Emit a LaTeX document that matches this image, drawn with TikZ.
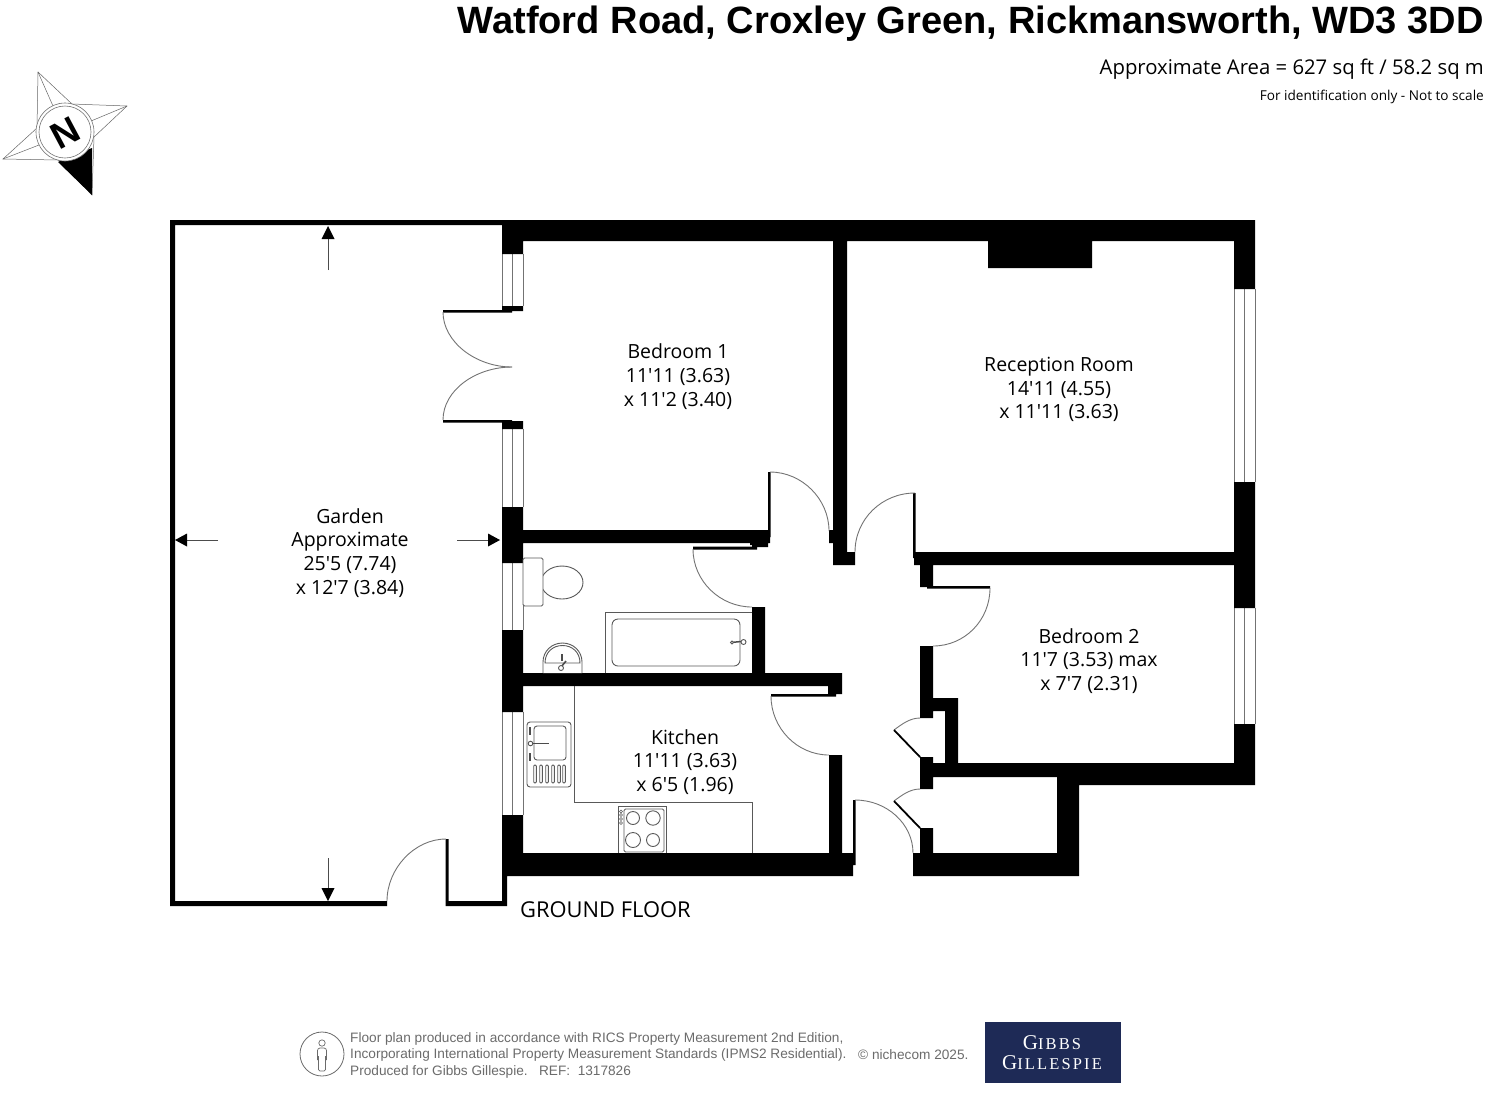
\documentclass[tikz,border=0pt]{standalone}
\usepackage{fontspec}
\newfontfamily\roomfont{Open Sans}
\newfontfamily\arial{Liberation Sans}
\newfontfamily\logofont[LetterSpace=13]{Liberation Serif}
\definecolor{navy}{HTML}{1E2A56}
\definecolor{fineline}{gray}{0.45}
\definecolor{footgrey}{gray}{0.42}
\tikzset{
  wall/.style={fill=black},
  fine/.style={draw=fineline,line width=0.9pt,fill=none},
  fixture/.style={draw=black!65,line width=0.9pt,fill=white},
  roomlabel/.style={align=center,inner sep=0pt,font=\roomfont\fontsize{19.5}{23.8}\selectfont},
  footline/.style={anchor=west,inner sep=0pt,text=footgrey,font=\arial\fontsize{13.65}{15}\selectfont},
  gardenarrow/.style={draw=black!70,line width=0.8pt},
  arrowhead/.style={fill=black},
}
\begin{document}
\begin{tikzpicture}[x=1pt,y=-1pt]
\useasboundingbox (0,0) rectangle (1487,1096);
% ---------- windows
\foreach \ya/\yb in {254/306,429/507,563/630,712/815}{
  \draw[fine] (502,\ya) -- (502,\yb) (512.5,\ya) -- (512.5,\yb) (523,\ya) -- (523,\yb);
}
\foreach \ya/\yb in {289/482,608/724}{
  \draw[fine] (1234,\ya) -- (1234,\yb) (1244.5,\ya) -- (1244.5,\yb) (1255,\ya) -- (1255,\yb);
}
% ---------- walls
\fill[wall]
  % garden
  (170,220) rectangle (175,906)
  (170,220) rectangle (502,225)
  (170,901) rectangle (387,906)
  (447,901) rectangle (507,906)
  (445.5,839) rectangle (448.5,906)
  (502,875) rectangle (507,906)
  % top and west
  (502,220) rectangle (1255,241)
  (502,220) rectangle (523,254)
  (502,306) rectangle (523,311)
  (443,310) rectangle (512,312.5)
  (443,420) rectangle (512,422.5)
  (502,421) rectangle (523,429)
  (502,507) rectangle (523,563)
  (502,630) rectangle (523,712)
  (502,815) rectangle (523,876)
  % south
  (502,853) rectangle (853,876)
  (842,853) rectangle (855,865)
  (853,800) rectangle (855.5,865)
  % chimney breast
  (988,241) rectangle (1092,268)
  % partition bedroom/reception
  (833,241) rectangle (847,565)
  (833,552) rectangle (855,565)
  % bedroom 1 south
  (523,530) rectangle (770,543)
  (750,543) rectangle (765,545)
  (752,541) rectangle (768,547)
  (768,472) rectangle (770.5,537)
  (829,530) rectangle (833,543)
  (693,546.5) rectangle (757,549.5)
  % hall east
  (913,493) rectangle (915.5,558)
  (914,552) rectangle (1234,565)
  (920,565) rectangle (933,587)
  (927,586) rectangle (990,588.5)
  (920,646) rectangle (933,718)
  (920,698) rectangle (958,711)
  (945,698) rectangle (958,763)
  (920,757) rectangle (933,789)
  (920,763) rectangle (1079,777)
  (1079,763) rectangle (1255,785)
  (920,828) rectangle (933,853)
  (913,853) rectangle (1079,876)
  (1057,763) rectangle (1079,876)
  % east
  (1234,220) rectangle (1255,289)
  (1234,482) rectangle (1255,608)
  (1234,724) rectangle (1255,785)
  % bath/kitchen
  (752,607) rectangle (765,673)
  (523,673) rectangle (842,686)
  (828,686) rectangle (842,694)
  (771,694) rectangle (836,696.5)
  (829,755) rectangle (842,853);
% ---------- door arcs
\draw[fine] (443,312) .. controls +(0,30) and +(-36,0) .. (512,367);
\draw[fine] (443,420) .. controls +(0,-30) and +(-36,0) .. (512,367);
\draw[fine] (446,839) .. controls +(-32,0) and +(0,-32) .. (387,901);
\draw[fine] (770,472) .. controls +(32,0) and +(0,-32) .. (829,531);
\draw[fine] (915,493) .. controls +(-33,0) and +(0,-33) .. (855,552);
\draw[fine] (990,588) .. controls +(0,32) and +(32,0) .. (933,646);
\draw[fine] (693,549) .. controls +(0,32) and +(-32,0) .. (752,607);
\draw[fine] (771,696) .. controls +(0,32) and +(-32,0) .. (829,755);
\draw[fine] (855,800) .. controls +(32,0) and +(0,-29) .. (913,853);
\draw[fine] (920,718) .. controls +(-10,0) and +(8,-6) .. (894,730);
\draw[fine] (920,789) .. controls +(-10,0) and +(8,-6) .. (894,801);
\draw[line width=1.8pt] (894,730) -- (920,757);
\draw[line width=1.8pt] (894,801) -- (920,828);
% ---------- garden arrows
\draw[gardenarrow] (328,270) -- (328,235);
\fill[arrowhead] (328,226) -- (334.5,239) -- (321.5,239) -- cycle;
\draw[gardenarrow] (328,858) -- (328,892);
\fill[arrowhead] (328,901) -- (334.5,888) -- (321.5,888) -- cycle;
\draw[gardenarrow] (218,540) -- (184,540);
\fill[arrowhead] (175,540) -- (187,533.5) -- (187,546.5) -- cycle;
\draw[gardenarrow] (457,540) -- (491,540);
\fill[arrowhead] (500,540) -- (488,533.5) -- (488,546.5) -- cycle;
% ---------- toilet
\draw[fixture] (562,582.5) ellipse[x radius=21,y radius=16.5];
\draw[fixture,rounded corners=1.5pt] (523,558) rectangle (543,606);
% ---------- basin
\draw[fixture] (543,673) -- (543,662) .. controls (543,651) and (552,643) .. (562.5,643) .. controls (573,643) and (582,651) .. (582,662) -- (582,673);
\draw[fixture,fill=none] (545,663) .. controls (545,652) and (553,645.5) .. (562.5,645.5) .. controls (572,645.5) and (580,652) .. (580,663) -- cycle;
\draw[fixture,line width=2pt,draw=black!70] (562,654) -- (562,661);
\draw[fixture,line width=1.6pt,draw=black!70] (561,667) -- (566,661);
\draw[fixture] (561,668) circle[radius=2.5];
% ---------- bath
\draw[fixture] (605,673) -- (605,612) -- (752,612);
\draw[fixture,rounded corners=6pt] (612,619) rectangle (740,666);
\draw[fixture,line width=1.5pt,draw=black!70] (731,642.5) -- (746,641);
\draw[fixture] (743.5,642) circle[radius=2.5];
\draw[fixture] (732,642.5) circle[radius=1.5];
% ---------- kitchen units
\draw[fixture,fill=none] (574,686) -- (574,802) -- (752,802) -- (752,853);
\draw[fixture,rounded corners=3pt] (527,722) rectangle (571,787);
\draw[fixture,rounded corners=3pt] (534,726) rectangle (566,760);
\foreach \xx in {535,541,547,553,559,564}{
  \draw[fixture,rounded corners=1pt,fill=none] (\xx-1.3,765) rectangle (\xx+1.3,783);
}
\draw[fixture,line width=1.8pt,draw=black!70] (530,727) -- (530,735);
\draw[fixture,line width=1.8pt,draw=black!70] (530,753) -- (530,761);
\draw[fixture,line width=1.2pt,draw=black!70] (532,743.5) -- (549,743.5);
\draw[fixture] (530.5,743.5) circle[radius=2.3];
% ---------- hob
\draw[fixture,fill=none] (618,853) -- (618,806) -- (666,806) -- (666,853);
\draw[fixture,rounded corners=1.5pt,fill=none] (624,852) -- (624,809) -- (664,809) -- (664,852) -- cycle;
\draw[fixture] (633,818) circle[radius=6.5];
\draw[fixture] (653,818) circle[radius=7.2];
\draw[fixture] (633,840) circle[radius=7.5];
\draw[fixture] (653,840) circle[radius=6.5];
\foreach \yy in {811.5,815,819,823}{\draw[fixture,line width=0.5pt] (621,\yy) circle[radius=1.5];}
% ---------- compass
\draw[draw=black!60,line width=0.5pt,fill=white] (38,72) -- (72,104) -- (127,106) -- (94,137) -- (92,195) -- (58,160) -- (3,159) -- (37,128) -- cycle;
\draw[draw=black!60,line width=0.5pt] (38,72) -- (53,106) (127,106) -- (91,121) (3,159) -- (39,145);
\fill[black] (92,148) -- (92,195) -- (58,162) -- cycle;
\draw[draw=black!55,line width=0.6pt,fill=white] (65,132) circle[radius=29];
\draw[draw=black!55,line width=0.6pt] (65,132) circle[radius=26];
\node[inner sep=0pt,rotate=28,font=\arial\bfseries\fontsize{37}{37}\selectfont] (northmark) at (65,133) {N};
% ---------- title
\node[anchor=east,inner sep=0pt,font=\arial\bfseries\fontsize{38.05}{40}\selectfont] (title) at (1484,23.5) {Watford Road, Croxley Green, Rickmansworth, WD3 3DD};
\node[anchor=east,inner sep=0pt,font=\roomfont\fontsize{20.3}{22}\selectfont] (area) at (1484,69) {Approximate Area = 627 sq ft / 58.2 sq m};
\node[anchor=east,inner sep=0pt,font=\roomfont\fontsize{13.6}{15}\selectfont] (noscale) at (1484,97) {For identification only - Not to scale};
% ---------- rooms
\node[roomlabel] (bed1) at (678,376.5) {Bedroom 1\\11'11 (3.63)\\x 11'2 (3.40)};
\node[roomlabel] (recep) at (1059,389.5) {Reception Room\\14'11 (4.55)\\x 11'11 (3.63)};
\node[roomlabel] (bed2) at (1089,661) {Bedroom 2\\11'7 (3.53) max\\x 7'7 (2.31)};
\node[roomlabel] (kitchen) at (685,762) {Kitchen\\11'11 (3.63)\\x 6'5 (1.96)};
\node[roomlabel] (garden) at (350,553) {Garden\\Approximate\\25'5 (7.74)\\x 12'7 (3.84)};
\node[anchor=west,inner sep=0pt,font=\roomfont\fontsize{21.9}{24}\selectfont] (floor) at (520,909.5) {GROUND FLOOR};
% ---------- footer
\draw[draw=footgrey,line width=0.8pt] (322,1054) circle[radius=22];
\draw[draw=footgrey,line width=0.7pt] (322,1043) circle[radius=3.2];
\draw[draw=footgrey,line width=0.7pt,rounded corners=2.5pt] (317.5,1060) -- (317.5,1048) -- (326.5,1048) -- (326.5,1060);
\draw[draw=footgrey,line width=0.7pt,rounded corners=1.5pt] (318.5,1056) -- (318.5,1071) -- (325.5,1071) -- (325.5,1056);
\node[footline] (foot1) at (350,1038.5) {Floor plan produced in accordance with RICS Property Measurement 2nd Edition,};
\node[footline] (foot2) at (350,1055) {Incorporating International Property Measurement Standards (IPMS2 Residential).};
\node[footline] (foot3) at (350,1071.5) {Produced for Gibbs Gillespie.\ \ \ REF:\ \ 1317826};
\node[footline] (foot4) at (858,1055) {© nichecom 2025.};
\fill[navy] (985,1022) rectangle (1121,1083);
\node[inner sep=0pt,text=white,font=\logofont] (logo1) at (1052,1043) {{\fontsize{21}{22}\selectfont G}{\fontsize{16.5}{22}\selectfont IBBS}};
\node[inner sep=0pt,text=white,font=\logofont] (logo2) at (1052,1062.5) {{\fontsize{21}{22}\selectfont G}{\fontsize{16.5}{22}\selectfont ILLESPIE}};
\end{tikzpicture}
\end{document}
